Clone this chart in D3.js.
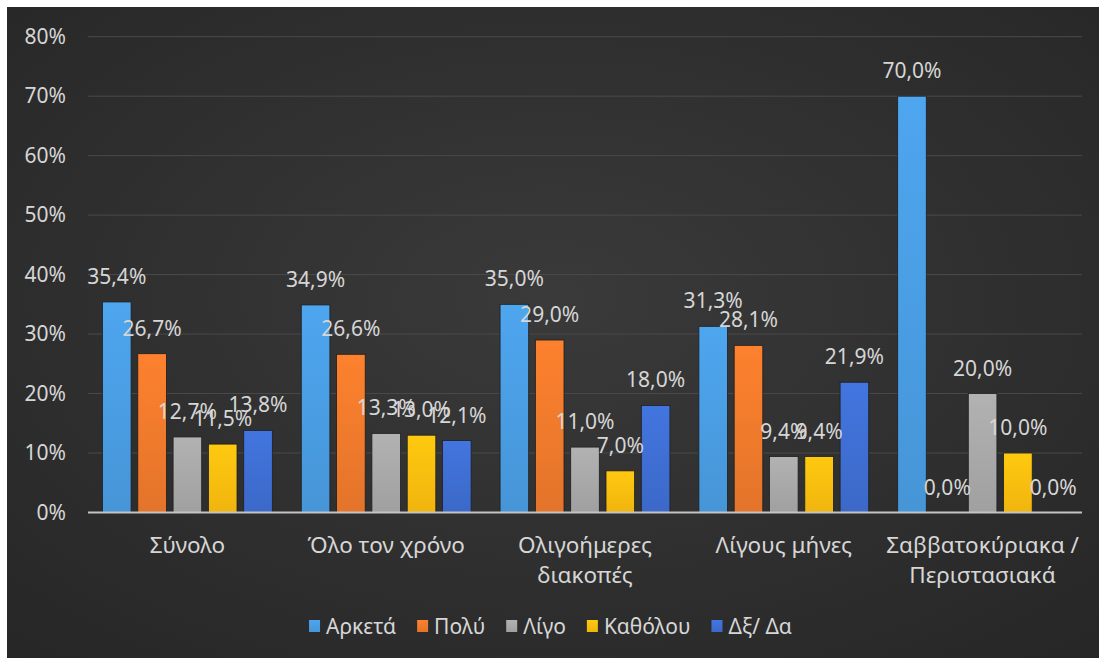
<!DOCTYPE html>
<html>
<head>
<meta charset="utf-8">
<script src="https://cdn.jsdelivr.net/npm/d3@7"></script>
<style>
  html, body { margin: 0; padding: 0; background: #ffffff; }
  svg { display: block; font-family: "Noto Sans", "Open Sans", sans-serif; }
</style>
</head>
<body>
<svg id="chart" width="1101" height="658"></svg>
<script>
// Categories (x axis groups)
const categories = [
  "Σύνολο",
  "Όλο τον χρόνο",
  "Ολιγοήμερες διακοπές",
  "Λίγους μήνες",
  "Σαββατοκύριακα / Περιστασιακά"
];

// Series names
const seriesNames = ["Αρκετά", "Πολύ", "Λίγο", "Καθόλου", "Δξ/ Δα"];

// Series values (%), one array per series, in category order
const arketa   = [35.4, 34.9, 35.0, 31.3, 70.0];
const poly     = [26.7, 26.6, 29.0, 28.1, 0.0];
const ligo     = [12.7, 13.3, 11.0, 9.4, 20.0];
const katholou = [11.5, 13.0, 7.0, 9.4, 10.0];
const dxda     = [13.8, 12.1, 18.0, 21.9, 0.0];

// Y axis ticks
const yTicks = [0, 10, 20, 30, 40, 50, 60, 70, 80];

const seriesValues = [arketa, poly, ligo, katholou, dxda];
const seriesColors = ["#4a9de3", "#f07a2c", "#a9a9a9", "#fdbf0f", "#3f6fd3"];

const W = 1101, H = 658;
const svg = d3.select("#chart");
const defs = svg.append("defs");

// Dark panel with a soft radial falloff
const bg = defs.append("radialGradient").attr("id", "bg")
  .attr("cx", "50%").attr("cy", "45%").attr("r", "75%");
bg.append("stop").attr("offset", "0%").attr("stop-color", "#3a3a3a");
bg.append("stop").attr("offset", "100%").attr("stop-color", "#262626");

svg.append("rect")
  .attr("x", 7).attr("y", 7)
  .attr("width", W - 9).attr("height", H - 7)
  .attr("fill", "url(#bg)");

// Bar fills: slight vertical shading
seriesColors.forEach((c, i) => {
  const g = defs.append("linearGradient").attr("id", "bar" + i)
    .attr("x1", 0).attr("y1", 0).attr("x2", 0).attr("y2", 1);
  g.append("stop").attr("offset", "0%").attr("stop-color", d3.color(c).brighter(0.15));
  g.append("stop").attr("offset", "100%").attr("stop-color", d3.color(c).darker(0.15));
});

const plot = { left: 88, right: 1082, top: 36.7, bottom: 512.5 };

const x0 = d3.scaleBand()
  .domain(categories)
  .range([plot.left, plot.right])
  .padding(0);

const x1 = d3.scaleBand()
  .domain(seriesNames)
  .range([0, x0.bandwidth()])
  .paddingInner(0.19)
  .paddingOuter(0.41);

const y = d3.scaleLinear()
  .domain([0, 80])
  .range([plot.bottom, plot.top]);

const textColor = "#d6d6d6";
const fontSize = 21;
const catFontSize = 22.5;

// Gridlines
svg.append("g")
  .selectAll("line")
  .data(yTicks.filter(t => t > 0))
  .join("line")
  .attr("x1", plot.left).attr("x2", plot.right)
  .attr("y1", d => y(d)).attr("y2", d => y(d))
  .attr("stroke", "#4a4a4a").attr("stroke-width", 1);

// Y axis labels
const yAxis = d3.axisLeft(y).tickValues(yTicks).tickFormat(d => d + "%").tickSize(0).tickPadding(0);
const yg = svg.append("g").attr("transform", `translate(66,0)`).call(yAxis);
yg.select(".domain").remove();
yg.selectAll("text")
  .attr("fill", textColor)
  .attr("font-size", fontSize)
  .attr("font-family", "Noto Sans, Open Sans, sans-serif");

// Bars
const fmt = v => d3.format(".1f")(v).replace(".", ",") + "%";

const groups = svg.append("g")
  .selectAll("g")
  .data(categories)
  .join("g")
  .attr("transform", d => `translate(${x0(d)},0)`);

groups.selectAll("rect")
  .data((c, ci) => seriesNames.map((s, si) => ({ s, si, v: seriesValues[si][ci] })))
  .join("rect")
  .attr("x", d => x1(d.s))
  .attr("width", x1.bandwidth())
  .attr("y", d => y(d.v))
  .attr("height", d => y(0) - y(d.v))
  .attr("fill", d => `url(#bar${d.si})`)
  .attr("stroke", "#1f1f1f")
  .attr("stroke-width", 0.8);

// Zero axis line
svg.append("line")
  .attr("x1", plot.left).attr("x2", plot.right)
  .attr("y1", y(0)).attr("y2", y(0))
  .attr("stroke", "#c4c4c4").attr("stroke-width", 2);

// Data labels, outside end of each bar
groups.selectAll("text.val")
  .data((c, ci) => seriesNames.map((s, si) => ({ s, si, v: seriesValues[si][ci] })))
  .join("text")
  .attr("class", "val")
  .attr("x", d => x1(d.s) + x1.bandwidth() / 2)
  .attr("y", d => y(d.v) - 18)
  .attr("text-anchor", "middle")
  .attr("font-size", fontSize)
  .attr("fill", textColor)
  .text(d => fmt(d.v));

// Category labels, wrapped to the band width
const catG = svg.append("g");
categories.forEach(c => {
  const cx = x0(c) + x0.bandwidth() / 2;
  const t = catG.append("text")
    .attr("x", cx)
    .attr("y", 553)
    .attr("text-anchor", "middle")
    .attr("font-size", catFontSize)
    .attr("fill", textColor);
  const words = c.split(" ");
  let line = [];
  let tspan = t.append("tspan").attr("x", cx).attr("dy", 0);
  words.forEach(w => {
    line.push(w);
    tspan.text(line.join(" "));
    if (tspan.node().getComputedTextLength() > x0.bandwidth() - 4 && line.length > 1) {
      line.pop();
      tspan.text(line.join(" "));
      line = [w];
      tspan = t.append("tspan")
        .attr("x", cx)
        .attr("dy", 30)
        .text(w);
    }
  });
});

// Legend, centred horizontally
const legend = svg.append("g");
const items = legend.selectAll("g")
  .data(seriesNames)
  .join("g");
items.append("rect")
  .attr("width", 11).attr("height", 12)
  .attr("y", -6)
  .attr("fill", (d, i) => `url(#bar${i})`);
items.append("text")
  .attr("x", 17)
  .attr("y", 0)
  .attr("dominant-baseline", "central")
  .attr("font-size", fontSize)
  .attr("fill", textColor)
  .text(d => d);
let cursor = 0;
items.each(function () {
  const g = d3.select(this);
  g.attr("transform", `translate(${cursor},0)`);
  cursor += 17 + g.select("text").node().getComputedTextLength() + 21;
});
const legendWidth = cursor - 21;
legend.attr("transform", `translate(${(W - legendWidth) / 2},626)`);
</script>
</body>
</html>
